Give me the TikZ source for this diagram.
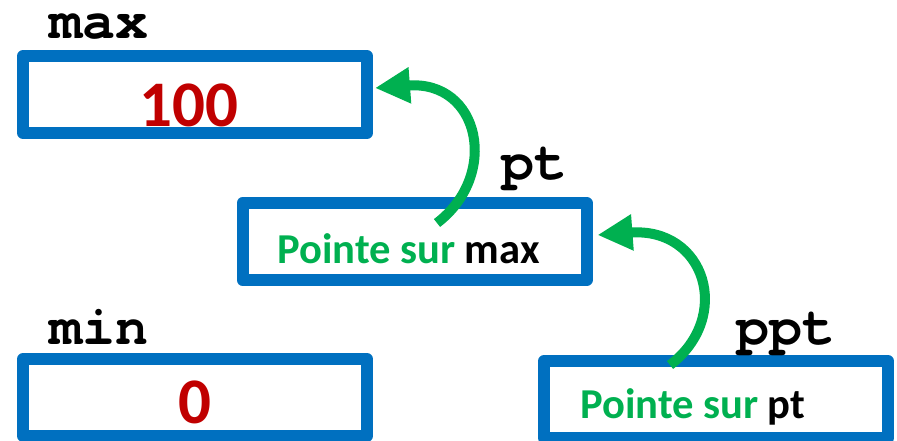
\documentclass[tikz,border=0pt]{standalone}
\usepackage{fontspec}
\usetikzlibrary{arrows.meta}
\newfontfamily\codefont{TeX Gyre Cursor}
\newfontfamily\valfont{Carlito}
\definecolor{boxblue}{HTML}{0070C0}
\definecolor{ptrgreen}{HTML}{00B050}
\definecolor{valred}{HTML}{C00000}
\begin{document}
\begin{tikzpicture}[x=1pt,y=-1pt,
  membox/.style={draw=boxblue,line width=12pt,line join=round,
    minimum width=344pt,minimum height=77pt,inner sep=0pt},
  varname/.style={anchor=base west,inner sep=0pt,
    font=\codefont\bfseries\fontsize{55}{60}\selectfont},
  value/.style={anchor=base,inner sep=0pt,text=valred,
    font=\valfont\bfseries\fontsize{65}{70}\selectfont},
  ptrtext/.style={anchor=base west,inner sep=0pt,
    font=\valfont\bfseries\fontsize{42.6}{48}\selectfont},
  ptrarrow/.style={draw=ptrgreen,line width=10pt,
    -{Triangle[length=35pt,width=34pt]}}]
\useasboundingbox (0,0) rectangle (897,440);

% memory cells
\node[membox] (maxbox) at (195,94.5) {};
\node[membox] (ptbox)  at (414.5,241.5) {};
\node[membox] (minbox) at (195,397.5) {};
\node[membox] (pptbox) at (716,399.5) {};

% variable names
\node[varname] (maxname) at (49,38) {max};
\node[varname] (ptname)  at (501,179) {pt};
\node[varname] (minname) at (49,344) {min};
\node[varname] (pptname) at (736,344) {ppt};

% contents
\node[value] (maxval) at (189,126) {100};
\node[value] (minval) at (195,423) {0};
\node[ptrtext] (ptval)  at (277,263) {\textcolor{ptrgreen}{Pointe sur} max};
\node[ptrtext] (pptval) at (580,418) {\textcolor{ptrgreen}{Pointe sur} pt};

% pointer arrows
\coordinate (ptfrom)  at ([shift={(22.5,-18.5)}]ptbox.center);
\coordinate (maxto)   at ([shift={(2,-6.5)}]maxbox.east);
\coordinate (pptfrom) at ([shift={(-46,-34.5)}]pptbox.center);
\coordinate (ptto)    at ([shift={(5,-6.5)}]ptbox.east);
\draw[ptrarrow] (ptfrom) .. controls +(63,-48) and +(105,-8) .. (maxto);
\draw[ptrarrow] (pptfrom) .. controls +(63,-48) and +(108,-8) .. (ptto);
\end{tikzpicture}
\end{document}
